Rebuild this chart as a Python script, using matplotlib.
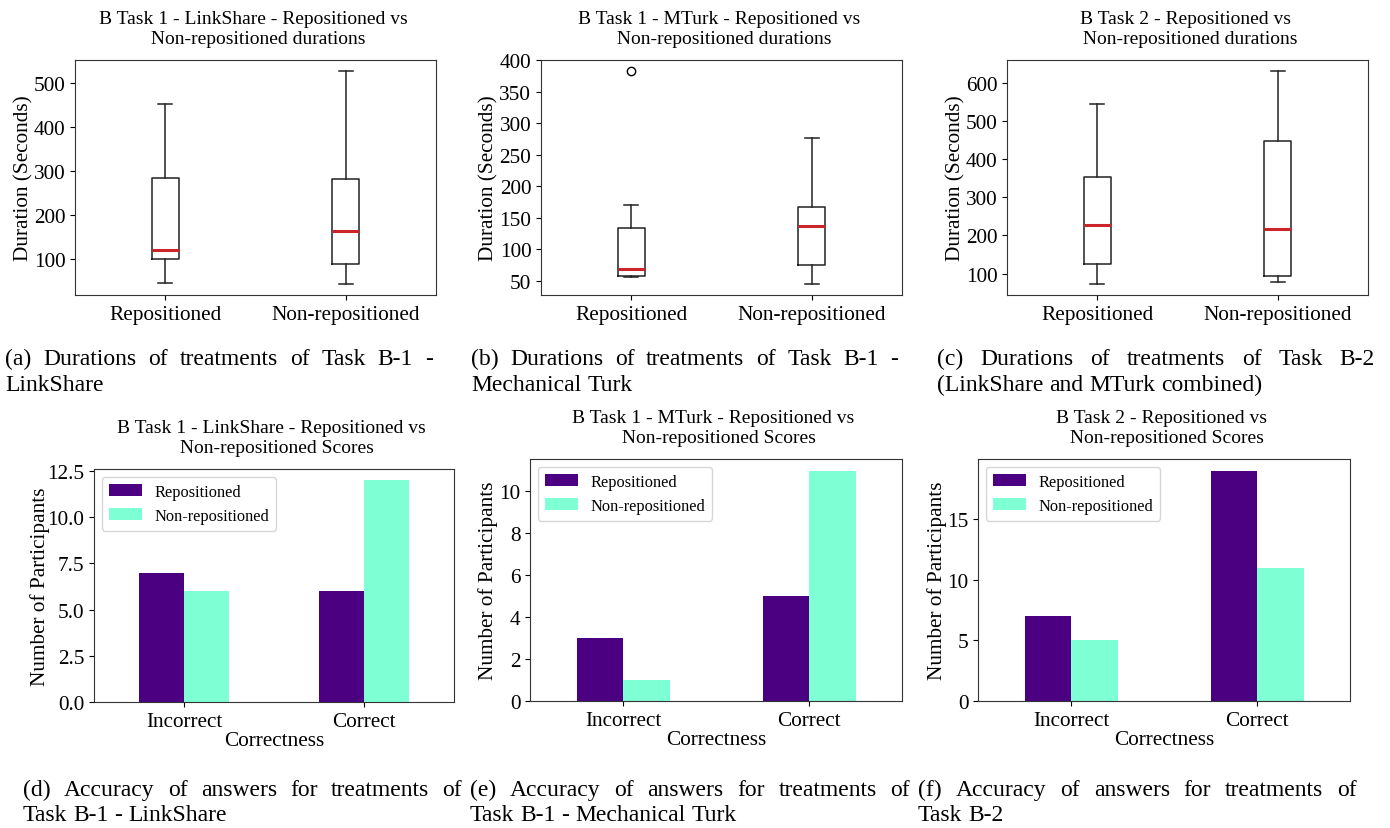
import pandas as pd
import matplotlib
matplotlib.use('Agg')
import matplotlib.pyplot as plt

plt.rcParams['font.family'] = ['Liberation Serif', 'DejaVu Serif']

W, H = 1390, 829
groups = ['Repositioned', 'Non-repositioned']
correctness = ['Incorrect', 'Correct']

# box plot stats: whislo, q1, med, q3, whishi, fliers
ls_box = [(47, 100, 121, 283, 452, []), (43, 88, 164, 281, 527, [])]
mt_box = [(55, 57, 69, 133, 170, [383]), (44, 74, 137, 167, 276, [])]
t2_box = [(72, 124, 226, 353, 544, []), (79, 94, 218, 446, 631, [])]

# participant counts (Repositioned, Non-repositioned) per correctness
ls_rep = [7, 6]
ls_non = [6, 12]
mt_rep = [3, 5]
mt_non = [1, 11]
t2_rep = [7, 19]
t2_non = [5, 11]

fig = plt.figure(figsize=(W / 100, H / 100), dpi=100)


def axes_px(x0, y0, x1, y1):
    return fig.add_axes([x0 / W, 1 - y1 / H, (x1 - x0) / W, (y1 - y0) / H])


def box_panel(box, title, x0, x1, yticks, lpad):
    ax = axes_px(x0, 61, x1, 296)
    stats = []
    for g, (lo, q1, med, q3, hi, fl) in zip(groups, box):
        stats.append(dict(label=g, whislo=lo, q1=q1, med=med, q3=q3,
                          whishi=hi, fliers=fl))
    ax.bxp(stats, widths=0.15,
           boxprops=dict(color='#222222', linewidth=1.1),
           whiskerprops=dict(color='#222222', linewidth=1.1),
           capprops=dict(color='#222222', linewidth=1.1),
           medianprops=dict(color='#cc2529', linewidth=2.2),
           flierprops=dict(marker='o', markerfacecolor='none',
                           markeredgecolor='black', markersize=6))
    ax.set_xlim(0.5, 2.5)
    ax.set_yticks(yticks)
    ax.set_ylabel('Duration (Seconds)', fontsize=15.3, labelpad=lpad)
    ax.tick_params(labelsize=15.3)
    ax.set_title(title, fontsize=14, pad=12.5)
    for s in ax.spines.values():
        s.set_color('#333333')
    return ax


def bar_panel(rep, non, title, x0, y0, x1, y1, yticks, lpad):
    ax = axes_px(x0, y0, x1, y1)
    df = pd.DataFrame({'Repositioned': rep, 'Non-repositioned': non},
                      index=pd.Index(correctness, name='Correctness'))
    df.plot(kind='bar', ax=ax, color=['#4B0082', '#7FFFD4'], rot=0)
    ax.set_yticks(yticks)
    ax.set_ylabel('Number of Participants', fontsize=15.3, labelpad=lpad)
    ax.set_xlabel('Correctness', fontsize=15.3, labelpad=0)
    ax.tick_params(labelsize=15.3)
    ax.legend(loc='upper left', fontsize=11.8)
    ax.set_title(title, fontsize=14, pad=12.5)
    for s in ax.spines.values():
        s.set_color('#333333')
    return ax


box_panel(ls_box, 'B Task 1 - LinkShare - Repositioned vs \n Non-repositioned durations',
          75, 436, [100, 200, 300, 400, 500], 0)
box_panel(mt_box, 'B Task 1 - MTurk - Repositioned vs \n Non-repositioned durations',
          541, 902, [50, 100, 150, 200, 250, 300, 350, 400], 1)
box_panel(t2_box, 'B Task 2 - Repositioned vs \n Non-repositioned durations',
          1007, 1368, [100, 200, 300, 400, 500, 600], 0)

bar_panel(ls_rep, ls_non, 'B Task 1 - LinkShare - Repositioned vs \n Non-repositioned Scores',
          94, 470, 454, 703, [0, 2.5, 5, 7.5, 10, 12.5], -2)
bar_panel(mt_rep, mt_non, 'B Task 1 - MTurk - Repositioned vs \n Non-repositioned Scores',
          530, 460, 902, 702, [0, 2, 4, 6, 8, 10], 1)
bar_panel(t2_rep, t2_non, 'B Task 2 - Repositioned vs \n Non-repositioned Scores',
          978, 460, 1350, 702, [0, 5, 10, 15], 0)

# sub-captions, first line justified like the paper
renderer = fig.canvas.get_renderer()


def caption(lines, x0, x1, y_base, size=17):
    for i, line in enumerate(lines):
        words = line.split(' ')
        texts = [fig.text(0, 0, w, fontsize=size, va='baseline') for w in words]
        widths = [t.get_window_extent(renderer).width for t in texts]
        if i == 0 and len(words) > 1:
            gap = ((x1 - x0) - sum(widths)) / (len(words) - 1)
        else:
            gap = 0.25 * size * 100 / 72
        x = x0
        for t, w in zip(texts, widths):
            t.set_position((x / W, 1 - y_base[i] / H))
            x += w + gap


caption(['(a) Durations of treatments of Task B-1 -', 'LinkShare'], 5, 433, [365, 391])
caption(['(b) Durations of treatments of Task B-1 -', 'Mechanical Turk'], 471, 898, [365, 391])
caption(['(c) Durations of treatments of Task B-2', '(LinkShare and MTurk combined)'], 937, 1375, [365, 391])
caption(['(d) Accuracy of answers for treatments of', 'Task B-1 - LinkShare'], 23, 462, [796, 821])
caption(['(e) Accuracy of answers for treatments of', 'Task B-1 - Mechanical Turk'], 470, 910, [796, 821])
caption(['(f) Accuracy of answers for treatments of', 'Task B-2'], 918, 1357, [796, 821])

fig.savefig('out.png', dpi=100)
